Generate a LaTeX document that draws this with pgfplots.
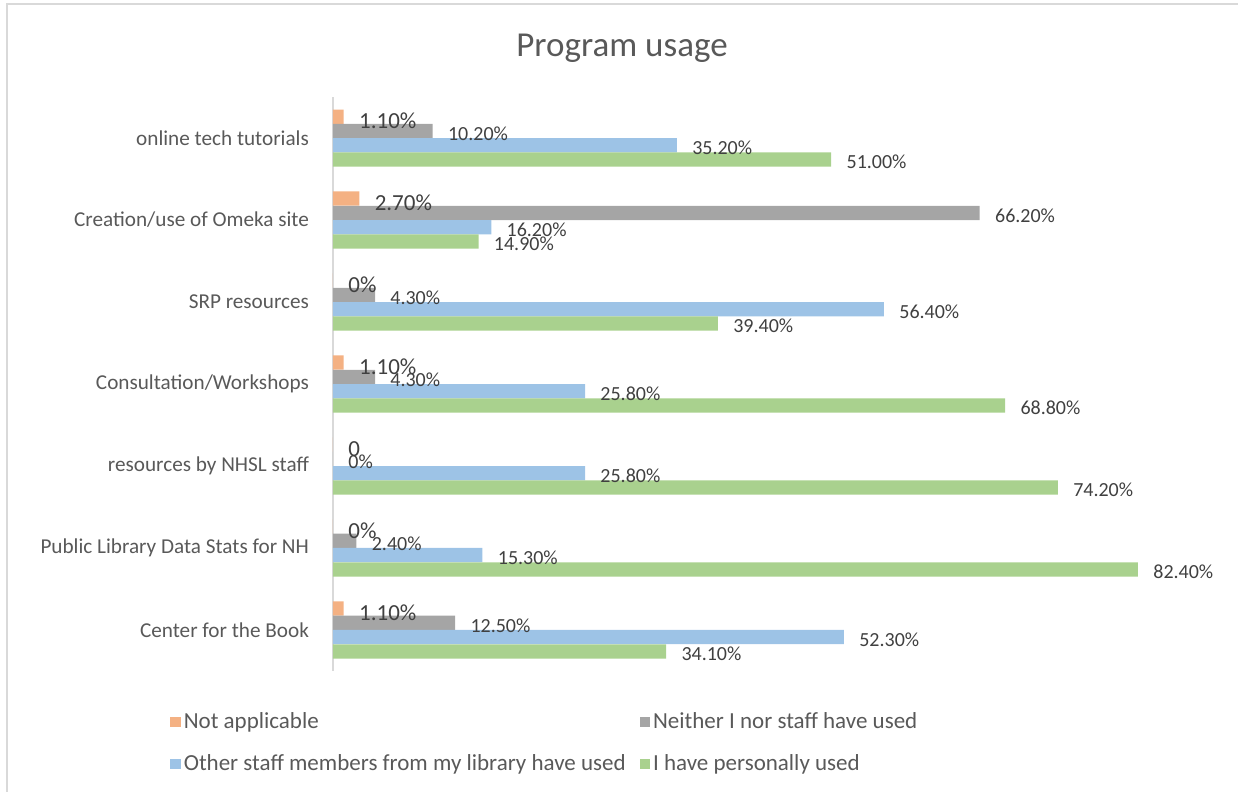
\documentclass[border=0pt]{standalone}
\usepackage{fontspec}
\setmainfont{Carlito}
\usepackage{pgfplots}
\pgfplotsset{compat=1.18}
\definecolor{cna}{HTML}{F4B183}
\definecolor{cne}{HTML}{A5A5A5}
\definecolor{cot}{HTML}{9DC3E6}
\definecolor{cpe}{HTML}{A9D18E}
\definecolor{txt}{HTML}{595959}
\definecolor{lbl}{HTML}{404040}
\definecolor{brd}{HTML}{D9D9D9}
\begin{document}
\begin{tikzpicture}
\useasboundingbox (0,0) rectangle (619pt,396pt);
\draw[brd, line width=1pt] (3.5pt,0) -- (3.5pt,394pt) -- (619pt,394pt);
\node[font=\fontsize{17.5}{20}\selectfont, text=txt] at (311pt,372pt) {Program usage};
\begin{axis}[
  at={(166.5pt,60.5pt)}, anchor=south west,
  scale only axis, width=415.2pt, height=287pt,
  xmin=0, xmax=85, ymin=-0.5, ymax=6.5,
  xbar, bar width=7.125pt,
  axis line style={draw=none},
  xtick={0}, xticklabels={}, xmajorgrids,
  grid style={brd, line width=0.8pt},
  ytick={0,...,6},
  yticklabels={Center for the Book, Public Library Data Stats for NH, resources by NHSL staff, Consultation/Workshops\hspace{2pt}, SRP resources, Creation/use of Omeka site, online tech tutorials},
  major tick length=0pt,
  yticklabel style={font=\fontsize{10.6}{13}\selectfont, text=txt, xshift=-8.5pt},
  clip=false,
  point meta=explicit symbolic,
  nodes near coords,
  every node near coord/.append style={anchor=west, inner sep=0pt, xshift=7.5pt, yshift=-1.3pt, font=\fontsize{10}{12}\selectfont, text=lbl},
  legend columns=2,
  legend cell align=left,
  legend style={at={(-0.1963,-0.066)}, anchor=north west, draw=none, fill=none, inner sep=0pt,
    font=\fontsize{11.5}{13}\selectfont, text=txt, row sep=8.5pt,
    /tikz/every even column/.append style={column sep=5.5pt},
    nodes={inner sep=1.5pt, text=txt}},
  legend image code/.code={\fill[#1] (0pt,-2.6pt) rectangle (5.2pt,2.6pt);},
]
\addplot[fill=cna, draw=none, bar shift=10.69pt,
  every node near coord/.append style={font=\fontsize{11.5}{13}\selectfont, yshift=-0.9pt}]
  coordinates {(1.1,6)[1.10\%] (2.7,5)[2.70\%] (0,4)[0\%] (1.1,3)[1.10\%] (0,2)[0] (0,1)[0\%] (1.1,0)[1.10\%]};
\addplot[fill=cne, draw=none, bar shift=3.5625pt]
  coordinates {(10.2,6)[10.20\%] (66.2,5)[66.20\%] (4.3,4)[4.30\%] (4.3,3)[4.30\%] (0,2)[0\%] (2.4,1)[2.40\%] (12.5,0)[12.50\%]};
\addplot[fill=cot, draw=none, bar shift=-3.5625pt]
  coordinates {(35.2,6)[35.20\%] (16.2,5)[16.20\%] (56.4,4)[56.40\%] (25.8,3)[25.80\%] (25.8,2)[25.80\%] (15.3,1)[15.30\%] (52.3,0)[52.30\%]};
\addplot[fill=cpe, draw=none, bar shift=-10.69pt]
  coordinates {(51.0,6)[51.00\%] (14.9,5)[14.90\%] (39.4,4)[39.40\%] (68.8,3)[68.80\%] (74.2,2)[74.20\%] (82.4,1)[82.40\%] (34.1,0)[34.10\%]};
\legend{Not applicable, Neither I nor staff have used, Other staff members from my library have used, I have personally used}
\end{axis}
\end{tikzpicture}
\end{document}
